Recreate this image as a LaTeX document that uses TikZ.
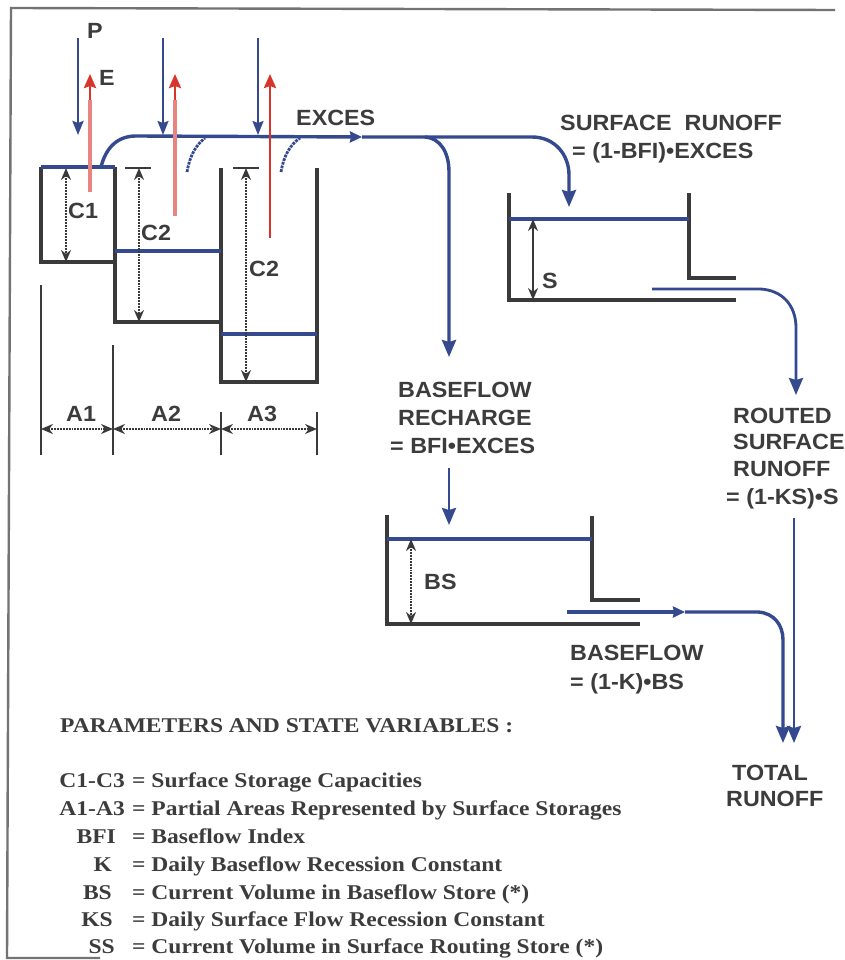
\documentclass[tikz,border=0pt]{standalone}
\usepackage{fontspec}
\setmainfont{Liberation Serif}
\setsansfont{Liberation Sans}
\newfontfamily\labfont[FakeStretch=1.06]{Liberation Sans}
\newfontfamily\legfont[FakeStretch=1.12]{Liberation Serif}
\usetikzlibrary{arrows.meta,calc}
\definecolor{flowblue}{HTML}{35498F}
\definecolor{wall}{HTML}{3A3A3A}
\definecolor{evap}{HTML}{D8342C}
\definecolor{inktxt}{HTML}{3C3C3C}
\tikzset{
  x=1pt,y=-1pt,
  tankwall/.style={draw=wall,line width=3.6pt,line join=miter},
  thinwall/.style={draw=wall,line width=3.4pt},
  tick/.style={draw=wall,line width=1.9pt},
  water/.style={draw=flowblue,line width=3.6pt},
  flow/.style={draw=flowblue,line width=3.4pt,-{Stealth[length=17pt,width=14pt,inset=2pt]}},
  midflow/.style={draw=flowblue,line width=3.4pt,-{Stealth[length=12pt,width=11pt,inset=1pt]}},
  rain/.style={draw=flowblue,line width=1.8pt,-{Stealth[length=14pt,width=11pt,inset=2pt]}},
  evapo/.style={draw=evap,line width=2.8pt,-{Stealth[length=14pt,width=12pt,inset=2pt]}},
  evaptail/.style={draw=evap!60,line width=3.4pt},
  dim/.style={draw=wall,line width=1.9pt,densely dotted,{Stealth[length=12pt,width=10pt]}-{Stealth[length=12pt,width=10pt]}},
  lab/.style={inner sep=0pt,anchor=base west,text=inktxt,font=\labfont\bfseries\fontsize{22}{22}\selectfont},
  leg/.style={inner sep=0pt,anchor=base west,text=inktxt,font=\legfont\bfseries\fontsize{21}{21}\selectfont},
  legr/.style={leg,anchor=base east},
  spillarc/.style={draw=flowblue,line width=2.8pt,densely dotted},
}
\begin{document}
\begin{tikzpicture}
\useasboundingbox (0,0) rectangle (845,960);
\fill[white] (0,0) rectangle (845,960);
% frame
\coordinate (fTL) at (11,8); \coordinate (fTR) at (835,10);
\coordinate (fBL) at (7,958); \coordinate (fBE) at (100,958);
\draw[draw=gray!90!black,line width=2.4pt] (fTR) -- (fTL) -- (fBL) -- (fBE);
% named points of the storages
\coordinate (t1a) at (41,167); \coordinate (t1b) at (41,262); \coordinate (t1c) at (115,262); \coordinate (t1d) at (115,167);
\coordinate (t2b) at (115,322); \coordinate (t2c) at (221,322); \coordinate (t2d) at (221,168);
\coordinate (t3b) at (221,382); \coordinate (t3c) at (317,382); \coordinate (t3d) at (317,168);
\draw[tankwall] (t1a) -- (t1b) -- (t1c) -- (t1d);
\draw[water] (t1a) -- (t1d);
\draw[thinwall] (t1c) -- (t2b) -- (t2c);
\draw[tankwall] (t2d) -- (t3b) -- (t3c) -- (t3d);
\coordinate (w2a) at (115,251); \coordinate (w2b) at (221,251);
\coordinate (w3a) at (221,334); \coordinate (w3b) at (317,334);
\draw[water] (w2a) -- (w2b);
\draw[water] (w3a) -- (w3b);
% area ticks
\coordinate (k1a) at (41,285); \coordinate (k1b) at (41,455);
\coordinate (k2a) at (113,345); \coordinate (k2b) at (113,455);
\coordinate (k3a) at (221,412); \coordinate (k3b) at (221,455);
\coordinate (k4a) at (317,412); \coordinate (k4b) at (317,455);
\draw[tick] (k1a) -- (k1b); \draw[tick] (k2a) -- (k2b);
\draw[tick] (k3a) -- (k3b); \draw[tick] (k4a) -- (k4b);
\coordinate (d1) at (41,429); \coordinate (d2) at (113,429);
\coordinate (d3) at (221,429); \coordinate (d4) at (317,429);
\draw[dim] (d1) -- (d2); \draw[dim] (d2) -- (d3); \draw[dim] (d3) -- (d4);
\node[lab] (a1) at (66,421) {A1};
\node[lab] (a2) at (151,421) {A2};
\node[lab] (a3) at (247,421) {A3};
% capacities
\coordinate (c1t) at (66,168); \coordinate (c1b) at (66,262);
\draw[dim] (c1t) -- (c1b);
\coordinate (c2t) at (139,168); \coordinate (c2b) at (139,322);
\coordinate (c2l) at (125,168); \coordinate (c2r) at (151,168);
\draw[dim] (c2t) -- (c2b); \draw[tick] (c2l) -- (c2r);
\coordinate (c3t) at (246,168); \coordinate (c3b) at (246,382);
\coordinate (c3l) at (233,168); \coordinate (c3r) at (259,168);
\draw[dim] (c3t) -- (c3b); \draw[tick] (c3l) -- (c3r);
\node[lab] (lc1) at (68,218) {C1};
\node[lab] (lc2) at (141,240) {C2};
\node[lab] (lc3) at (249,276) {C2};
% rain and evaporation
\coordinate (p1a) at (78,38); \coordinate (p1b) at (78,135);
\coordinate (p2a) at (163,38); \coordinate (p2b) at (163,135);
\coordinate (p3a) at (258,38); \coordinate (p3b) at (258,135);
\draw[rain,line width=2.8pt] (p1a) -- (p1b);
\draw[rain] (p2a) -- (p2b);
\draw[rain] (p3a) -- (p3b);
\coordinate (e1a) at (90,192); \coordinate (e1b) at (90,74); \coordinate (e1c) at (90,100);
\coordinate (e2a) at (175,216); \coordinate (e2b) at (175,74); \coordinate (e2c) at (175,100);
\coordinate (e3a) at (270,238); \coordinate (e3b) at (270,74);
\node[lab] (lp) at (87,39) {P};
\node[lab] (le) at (99,86) {E};
% excess flow
\coordinate (x0) at (101,167); \coordinate (xm) at (362,137);
\coordinate (xs) at (569,207); \coordinate (xb) at (449,357);
\draw[midflow] (x0) .. controls (106,147) and (118,136) .. (136,136) -- (xm);
\draw[flow] (xm) -- (532,137) .. controls (555,137) and (569,155) .. (569,175) -- (xs);
\draw[flow] (425,137) .. controls (440,138) and (449,152) .. (449,172) -- (xb);
\draw[evapo] (e1a) -- (e1b);
\draw[evapo] (e2a) -- (e2b);
\draw[evapo] (e3a) -- (e3b);
\draw[evaptail] (e1a) -- (e1c);
\draw[evaptail] (e2a) -- (e2c);
\coordinate (sp1a) at (187,172); \coordinate (sp1b) at (205,138);
\coordinate (sp2a) at (281,172); \coordinate (sp2b) at (300,138);
\draw[spillarc] (sp1a) .. controls (190,155) and (196,145) .. (sp1b);
\draw[spillarc] (sp2a) .. controls (284,155) and (290,145) .. (sp2b);
\node[lab] (lex) at (296,126) {EXCES};
% surface store
\coordinate (sa) at (509,193); \coordinate (sb) at (509,300); \coordinate (sc) at (736,300);
\coordinate (sd) at (689,193); \coordinate (se) at (689,278); \coordinate (sf) at (736,278);
\draw[tankwall] (sa) -- (sb) -- (sc);
\draw[tankwall] (sd) -- (se) -- (sf);
\coordinate (swa) at (509,219); \coordinate (swb) at (689,219);
\draw[water] (swa) -- (swb);
\coordinate (sdt) at (533,219); \coordinate (sdb) at (533,300);
\draw[dim,solid] (sdt) -- (sdb);
\node[lab] (ls) at (542,288) {S};
\coordinate (so) at (652,289); \coordinate (se2) at (796,395);
\draw[flow,line width=2.8pt] (so) -- (760,289) .. controls (782,290) and (796,305) .. (796,328) -- (se2);
\node[lab] (lsr1) at (560,131) {SURFACE\hspace{0.3em} RUNOFF};
\node[lab] (lsr2) at (572,159) {= (1-BFI)•EXCES};
% baseflow recharge
\node[lab] (lb1) at (398,397) {BASEFLOW};
\node[lab] (lb2) at (398,425) {RECHARGE};
\node[lab] (lb3) at (390,453) {= BFI•EXCES};
\coordinate (ra) at (449,468); \coordinate (rb) at (449,525);
\draw[flow,line width=2.8pt] (ra) -- (rb);
% base store
\coordinate (ba) at (387,515); \coordinate (bb) at (387,624); \coordinate (bc) at (640,624);
\coordinate (bd) at (592,516); \coordinate (be) at (592,600); \coordinate (bf) at (640,600);
\draw[tankwall] (ba) -- (bb) -- (bc);
\draw[tankwall] (bd) -- (be) -- (bf);
\coordinate (bwa) at (387,539); \coordinate (bwb) at (592,539);
\draw[water] (bwa) -- (bwb);
\coordinate (bdt) at (411,539); \coordinate (bdb) at (411,624);
\draw[dim] (bdt) -- (bdb);
\node[lab] (lbs) at (424,589) {BS};
\coordinate (bo) at (567,612); \coordinate (bm) at (685,612); \coordinate (bt) at (783,743);
\draw[midflow] (bo) -- (bm);
\draw[flow] (bm) -- (758,612) .. controls (774,613) and (783,625) .. (783,640) -- (bt);
\coordinate (rs) at (794,518); \coordinate (rt) at (794,743);
\draw[flow,line width=2.8pt] (rs) -- (rt);
\node[lab] (lbf1) at (570,660) {BASEFLOW};
\node[lab] (lbf2) at (570,689) {= (1-K)•BS};
\node[lab] (lr1) at (733,423) {ROUTED};
\node[lab] (lr2) at (733,449) {SURFACE};
\node[lab] (lr3) at (733,476) {RUNOFF};
\node[lab] (lr4) at (726,504) {= (1-KS)•S};
\node[lab] (lt1) at (732,780) {TOTAL};
\node[lab] (lt2) at (726,806) {RUNOFF};
% legend
\node[leg] (lg0) at (60,732) {PARAMETERS AND STATE VARIABLES :};
\node[legr] (l1) at (125,787) {C1-C3};
\node[legr] (l2) at (125,815) {A1-A3};
\node[legr] (l3) at (116,843) {BFI};
\node[legr] (l4) at (112,871) {K};
\node[legr] (l5) at (112,899) {BS};
\node[legr] (l6) at (113,926) {KS};
\node[legr] (l7) at (115,953) {SS};
\node[leg] (r1) at (132,787) {= Surface Storage Capacities};
\node[leg] (r2) at (132,815) {= Partial Areas Represented by Surface Storages};
\node[leg] (r3) at (132,843) {= Baseflow Index};
\node[leg] (r4) at (132,871) {= Daily Baseflow Recession Constant};
\node[leg] (r5) at (132,899) {= Current Volume in Baseflow Store (*)};
\node[leg] (r6) at (132,926) {= Daily Surface Flow Recession Constant};
\node[leg] (r7) at (132,953) {= Current Volume in Surface Routing Store (*)};
\end{tikzpicture}
\end{document}
